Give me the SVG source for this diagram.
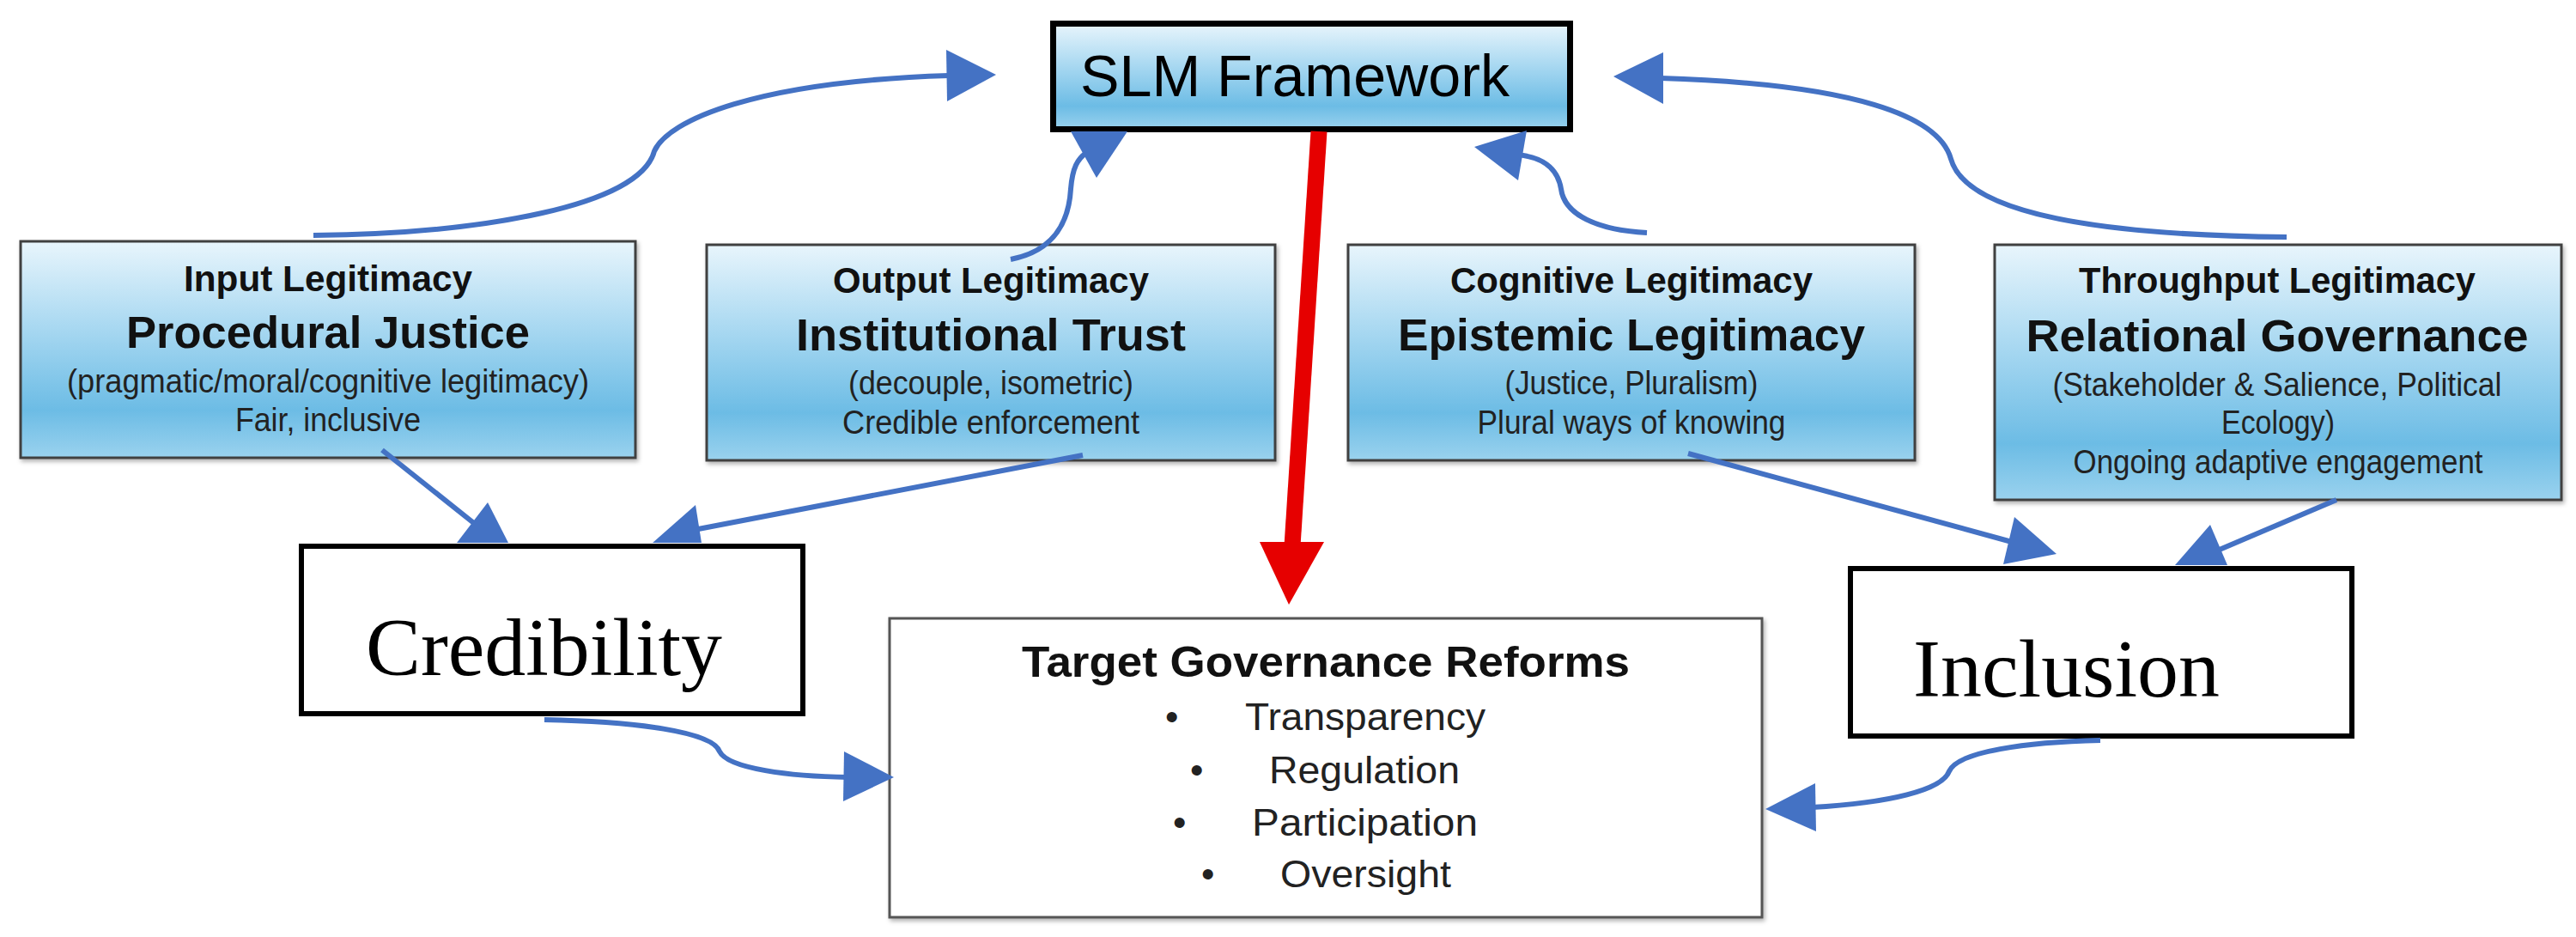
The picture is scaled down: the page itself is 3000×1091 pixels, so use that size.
<svg xmlns="http://www.w3.org/2000/svg" width="3000" height="1091" viewBox="0 0 3000 1091">
<style>
.bx{fill:url(#g);stroke:#404040;stroke-width:3;filter:url(#sh)}
.wb{fill:#fff;stroke:#000;stroke-width:6}
.b{font-family:"Liberation Sans",Arial,sans-serif;font-weight:bold;fill:#111;text-anchor:middle}
.r{font-family:"Liberation Sans",Arial,sans-serif;fill:#222;text-anchor:middle}
.s{font-family:"Liberation Serif","Times New Roman",serif;fill:#000}
.c{fill:none;stroke:#4472C4;stroke-width:6}
.h{fill:#4472C4}
</style>
<defs>
<linearGradient id="g" x1="0" y1="0" x2="0" y2="1">
<stop offset="0" stop-color="#E8F5FC"/>
<stop offset="0.4" stop-color="#A8D8F1"/>
<stop offset="0.78" stop-color="#6CBCE5"/>
<stop offset="1" stop-color="#9AD2EE"/>
</linearGradient>
<filter id="sh" x="-5%" y="-5%" width="110%" height="115%">
<feDropShadow dx="2" dy="3" stdDeviation="2.5" flood-color="#000" flood-opacity="0.3"/>
</filter>
</defs>
<rect width="3000" height="1091" fill="#fff"/>

<g id="slm">
<rect x="1226.5" y="27.5" width="602" height="123" fill="url(#g)" stroke="#000" stroke-width="7"/>
<text x="1258" y="112" font-family="Liberation Sans,Arial,sans-serif" font-size="68" fill="#000" textLength="500" lengthAdjust="spacingAndGlyphs">SLM Framework</text>
</g>

<g id="input">
<rect class="bx" x="24" y="281" width="716" height="252"/>
<text class="b" x="382" y="339" font-size="42" textLength="336" lengthAdjust="spacingAndGlyphs">Input Legitimacy</text>
<text class="b" x="382" y="405" font-size="51" textLength="470" lengthAdjust="spacingAndGlyphs">Procedural Justice</text>
<text class="r" x="382" y="457" font-size="38" textLength="608" lengthAdjust="spacingAndGlyphs">(pragmatic/moral/cognitive legitimacy)</text>
<text class="r" x="382" y="502" font-size="38" textLength="216" lengthAdjust="spacingAndGlyphs">Fair, inclusive</text>
</g>

<g id="output">
<rect class="bx" x="823" y="285" width="662" height="251"/>
<text class="b" x="1154" y="341" font-size="42" textLength="368" lengthAdjust="spacingAndGlyphs">Output Legitimacy</text>
<text class="b" x="1154" y="408" font-size="51" textLength="454" lengthAdjust="spacingAndGlyphs">Institutional Trust</text>
<text class="r" x="1154" y="459" font-size="38" textLength="332" lengthAdjust="spacingAndGlyphs">(decouple, isometric)</text>
<text class="r" x="1154" y="505" font-size="38" textLength="346" lengthAdjust="spacingAndGlyphs">Credible enforcement</text>
</g>

<g id="cognitive">
<rect class="bx" x="1570" y="285" width="660" height="251"/>
<text class="b" x="1900" y="341" font-size="42" textLength="422" lengthAdjust="spacingAndGlyphs">Cognitive Legitimacy</text>
<text class="b" x="1900" y="408" font-size="51" textLength="544" lengthAdjust="spacingAndGlyphs">Epistemic Legitimacy</text>
<text class="r" x="1900" y="459" font-size="38" textLength="295" lengthAdjust="spacingAndGlyphs">(Justice, Pluralism)</text>
<text class="r" x="1900" y="505" font-size="38" textLength="359" lengthAdjust="spacingAndGlyphs">Plural ways of knowing</text>
</g>

<g id="throughput">
<rect class="bx" x="2323" y="285" width="660" height="297"/>
<text class="b" x="2652" y="341" font-size="42" textLength="462" lengthAdjust="spacingAndGlyphs">Throughput Legitimacy</text>
<text class="b" x="2652" y="409" font-size="51" textLength="585" lengthAdjust="spacingAndGlyphs">Relational Governance</text>
<text class="r" x="2652" y="461" font-size="38" textLength="523" lengthAdjust="spacingAndGlyphs">(Stakeholder &amp; Salience, Political</text>
<text class="r" x="2653" y="505" font-size="38" textLength="132" lengthAdjust="spacingAndGlyphs">Ecology)</text>
<text class="r" x="2653" y="551" font-size="38" textLength="477" lengthAdjust="spacingAndGlyphs">Ongoing adaptive engagement</text>
</g>

<g id="credibility">
<rect class="wb" x="351" y="636" width="584" height="195"/>
<text class="s" x="426" y="786" font-size="96" textLength="415" lengthAdjust="spacingAndGlyphs">Credibility</text>
</g>

<g id="inclusion">
<rect class="wb" x="2155" y="662" width="584" height="195"/>
<text class="s" x="2228" y="811" font-size="96" textLength="357" lengthAdjust="spacingAndGlyphs">Inclusion</text>
</g>

<g id="target">
<rect x="1036" y="720" width="1016" height="348" fill="#fff" stroke="#555" stroke-width="3" filter="url(#sh)"/>
<text class="b" x="1544" y="788" font-size="50" textLength="708" lengthAdjust="spacingAndGlyphs">Target Governance Reforms</text>
<g font-family="Liberation Sans,Arial,sans-serif" font-size="44" fill="#222">
<text x="1357" y="850">•</text>
<text x="1450" y="850" textLength="280" lengthAdjust="spacingAndGlyphs">Transparency</text>
<text x="1386" y="912">•</text>
<text x="1478" y="912" textLength="222" lengthAdjust="spacingAndGlyphs">Regulation</text>
<text x="1366" y="973">•</text>
<text x="1458" y="973" textLength="263" lengthAdjust="spacingAndGlyphs">Participation</text>
<text x="1399" y="1033">•</text>
<text x="1491" y="1033" textLength="199" lengthAdjust="spacingAndGlyphs">Oversight</text>
</g>
</g>

<g id="connectors">
<path class="c" d="M365,274 C560,272 745,240 762,176 C778,140 880,95 1105,88"/>
<polygon class="h" points="1102,58 1160,87 1103,118"/>
<path class="c" d="M2663,276 C2450,274 2290,250 2272,185 C2258,135 2160,98 1934,91"/>
<polygon class="h" points="1879,89 1937,61 1937,121"/>
<path class="c" d="M1177,302 C1230,292 1245,255 1247,220 C1249,195 1255,185 1265,178"/>
<polygon class="h" points="1247,153 1313,153 1277,207"/>
<path class="c" d="M1918,271 C1860,268 1822,250 1818,220 C1814,195 1795,182 1765,180"/>
<polygon class="h" points="1717,171 1778,152 1768,210"/>
<line class="c" x1="445" y1="524" x2="558" y2="614"/>
<polygon class="h" points="568,585 592,632 532,632"/>
<line class="c" x1="1261" y1="530" x2="808" y2="617"/>
<polygon class="h" points="810,588 817,632 760,632"/>
<line class="c" x1="1966" y1="528" x2="2343" y2="631"/>
<polygon class="h" points="2346,602 2395,645 2333,657"/>
<line class="c" x1="2721" y1="582" x2="2580" y2="642"/>
<polygon class="h" points="2574,611 2594,658 2533,658"/>
<path class="c" stroke-width="7" d="M634,838 C740,840 830,852 838,875 C848,895 920,904 988,905"/>
<polygon class="h" points="983,875 1041,905 982,933"/>
<path class="c" stroke-width="7" d="M2446,862 C2360,864 2280,875 2270,898 C2262,920 2200,935 2110,940"/>
<polygon class="h" points="2114,912 2056,942 2115,968"/>
<line x1="1536" y1="153" x2="1505" y2="636" stroke="#E60000" stroke-width="19"/>
<polygon fill="#E60000" points="1467,631 1542,631 1501,704"/>
</g>
</svg>
